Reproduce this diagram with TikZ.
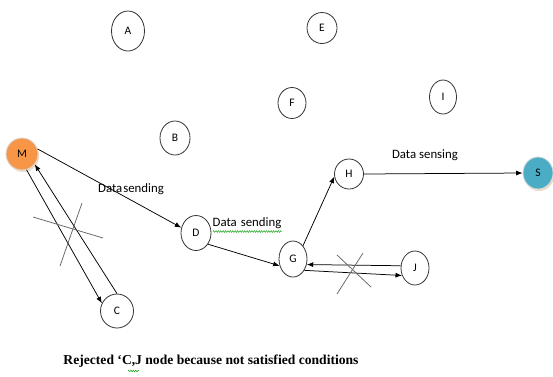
\documentclass[tikz,border=0pt]{standalone}
\usepackage{fontspec}
\setmainfont{Carlito}
\newfontfamily\capfont{Liberation Serif}
\usetikzlibrary{shapes.geometric,arrows.meta,shadows,decorations.pathmorphing}

\definecolor{mnode}{HTML}{F79646}
\definecolor{snode}{HTML}{4BACC6}

\begin{document}
\begin{tikzpicture}[x=1pt,y=-1pt,
  peer/.style={ellipse,draw=black!80,line width=0.8pt,inner sep=0pt,
    minimum width=30pt,minimum height=34pt,font=\fontsize{11.5}{13}\selectfont},
  endpoint/.style={peer,draw=white!85!black,
    drop shadow={shadow xshift=1.2pt,shadow yshift=-2pt,fill=brown!35,opacity=0.8}},
  link/.style={-{Latex[length=6.5pt,width=5pt]},line width=0.75pt},
  veto/.style={draw=black!60,line width=0.75pt},
  lbl/.style={font=\fontsize{12.8}{15}\selectfont,inner sep=0pt},
  squiggle/.style={draw=green!60!black,line width=0.4pt,decorate,
    decoration={zigzag,amplitude=0.9pt,segment length=2.4pt}}]
\useasboundingbox (0,0) rectangle (553,376);

% sensor nodes
\node[peer,minimum width=33pt,minimum height=40pt] (A) at (128,31) {A};
\node[peer,minimum width=30pt,minimum height=34pt] (B) at (175,138) {B};
\node[peer,minimum width=33pt,minimum height=34pt] (C) at (117,311) {C};
\node[peer,minimum width=30pt,minimum height=35pt] (D) at (196,233) {D};
\node[peer,minimum width=30pt,minimum height=31pt] (E) at (322,28) {E};
\node[peer,minimum width=28pt,minimum height=31pt] (F) at (292,103) {F};
\node[peer,minimum width=28pt,minimum height=36pt] (G) at (293,259) {G};
\node[peer,minimum width=29pt,minimum height=30pt] (H) at (349,174) {H};
\node[peer,minimum width=27pt,minimum height=34pt] (I) at (443,97) {I};
\node[peer,minimum width=28pt,minimum height=34pt] (J) at (415,268) {J};

% source and sink
\node[endpoint,fill=mnode,minimum width=32pt,minimum height=32pt] (M) at (22,154) {M};
\node[endpoint,fill=snode,minimum width=30pt,minimum height=32pt] (S) at (538,173) {S};

% data paths
\draw[link] (M.18) -- (D.160);
\draw[link] (M.-74) -- (C.153);
\draw[link] (C.90) -- (M.-39);
\draw[link] (D.-43) -- (G.-153);
\draw[link] (G.53) -- (H.190);
\draw[link] (J.171) -- (G.-22);
\draw[link] (G.-45) -- (J.-150);
\draw[link] (H.0) -- (S.180);

% rejected links
\draw[veto] (33,217) -- (103,238);
\draw[veto] (82,203) -- (60,266);
\draw[veto] (337,255) -- (371,287);
\draw[veto] (363,253) -- (337,294);

% labels
\node[lbl] (l1) at (131,189) {Data\kern1pt sending};
\node[lbl] (l2) at (247,223) {Data\hspace{4pt}sending};
\draw[squiggle] (213,231.5) -- (282,231.5);
\node[lbl] (l3) at (425,155) {Data sensing};

\node[font=\capfont\bfseries\fontsize{13.6}{16}\selectfont,inner sep=0pt] (cap) at (211,361)
  {Rejected ‘C,J node because not satisfied conditions};
\draw[squiggle] (128,371) -- (139,371);
\end{tikzpicture}
\end{document}
